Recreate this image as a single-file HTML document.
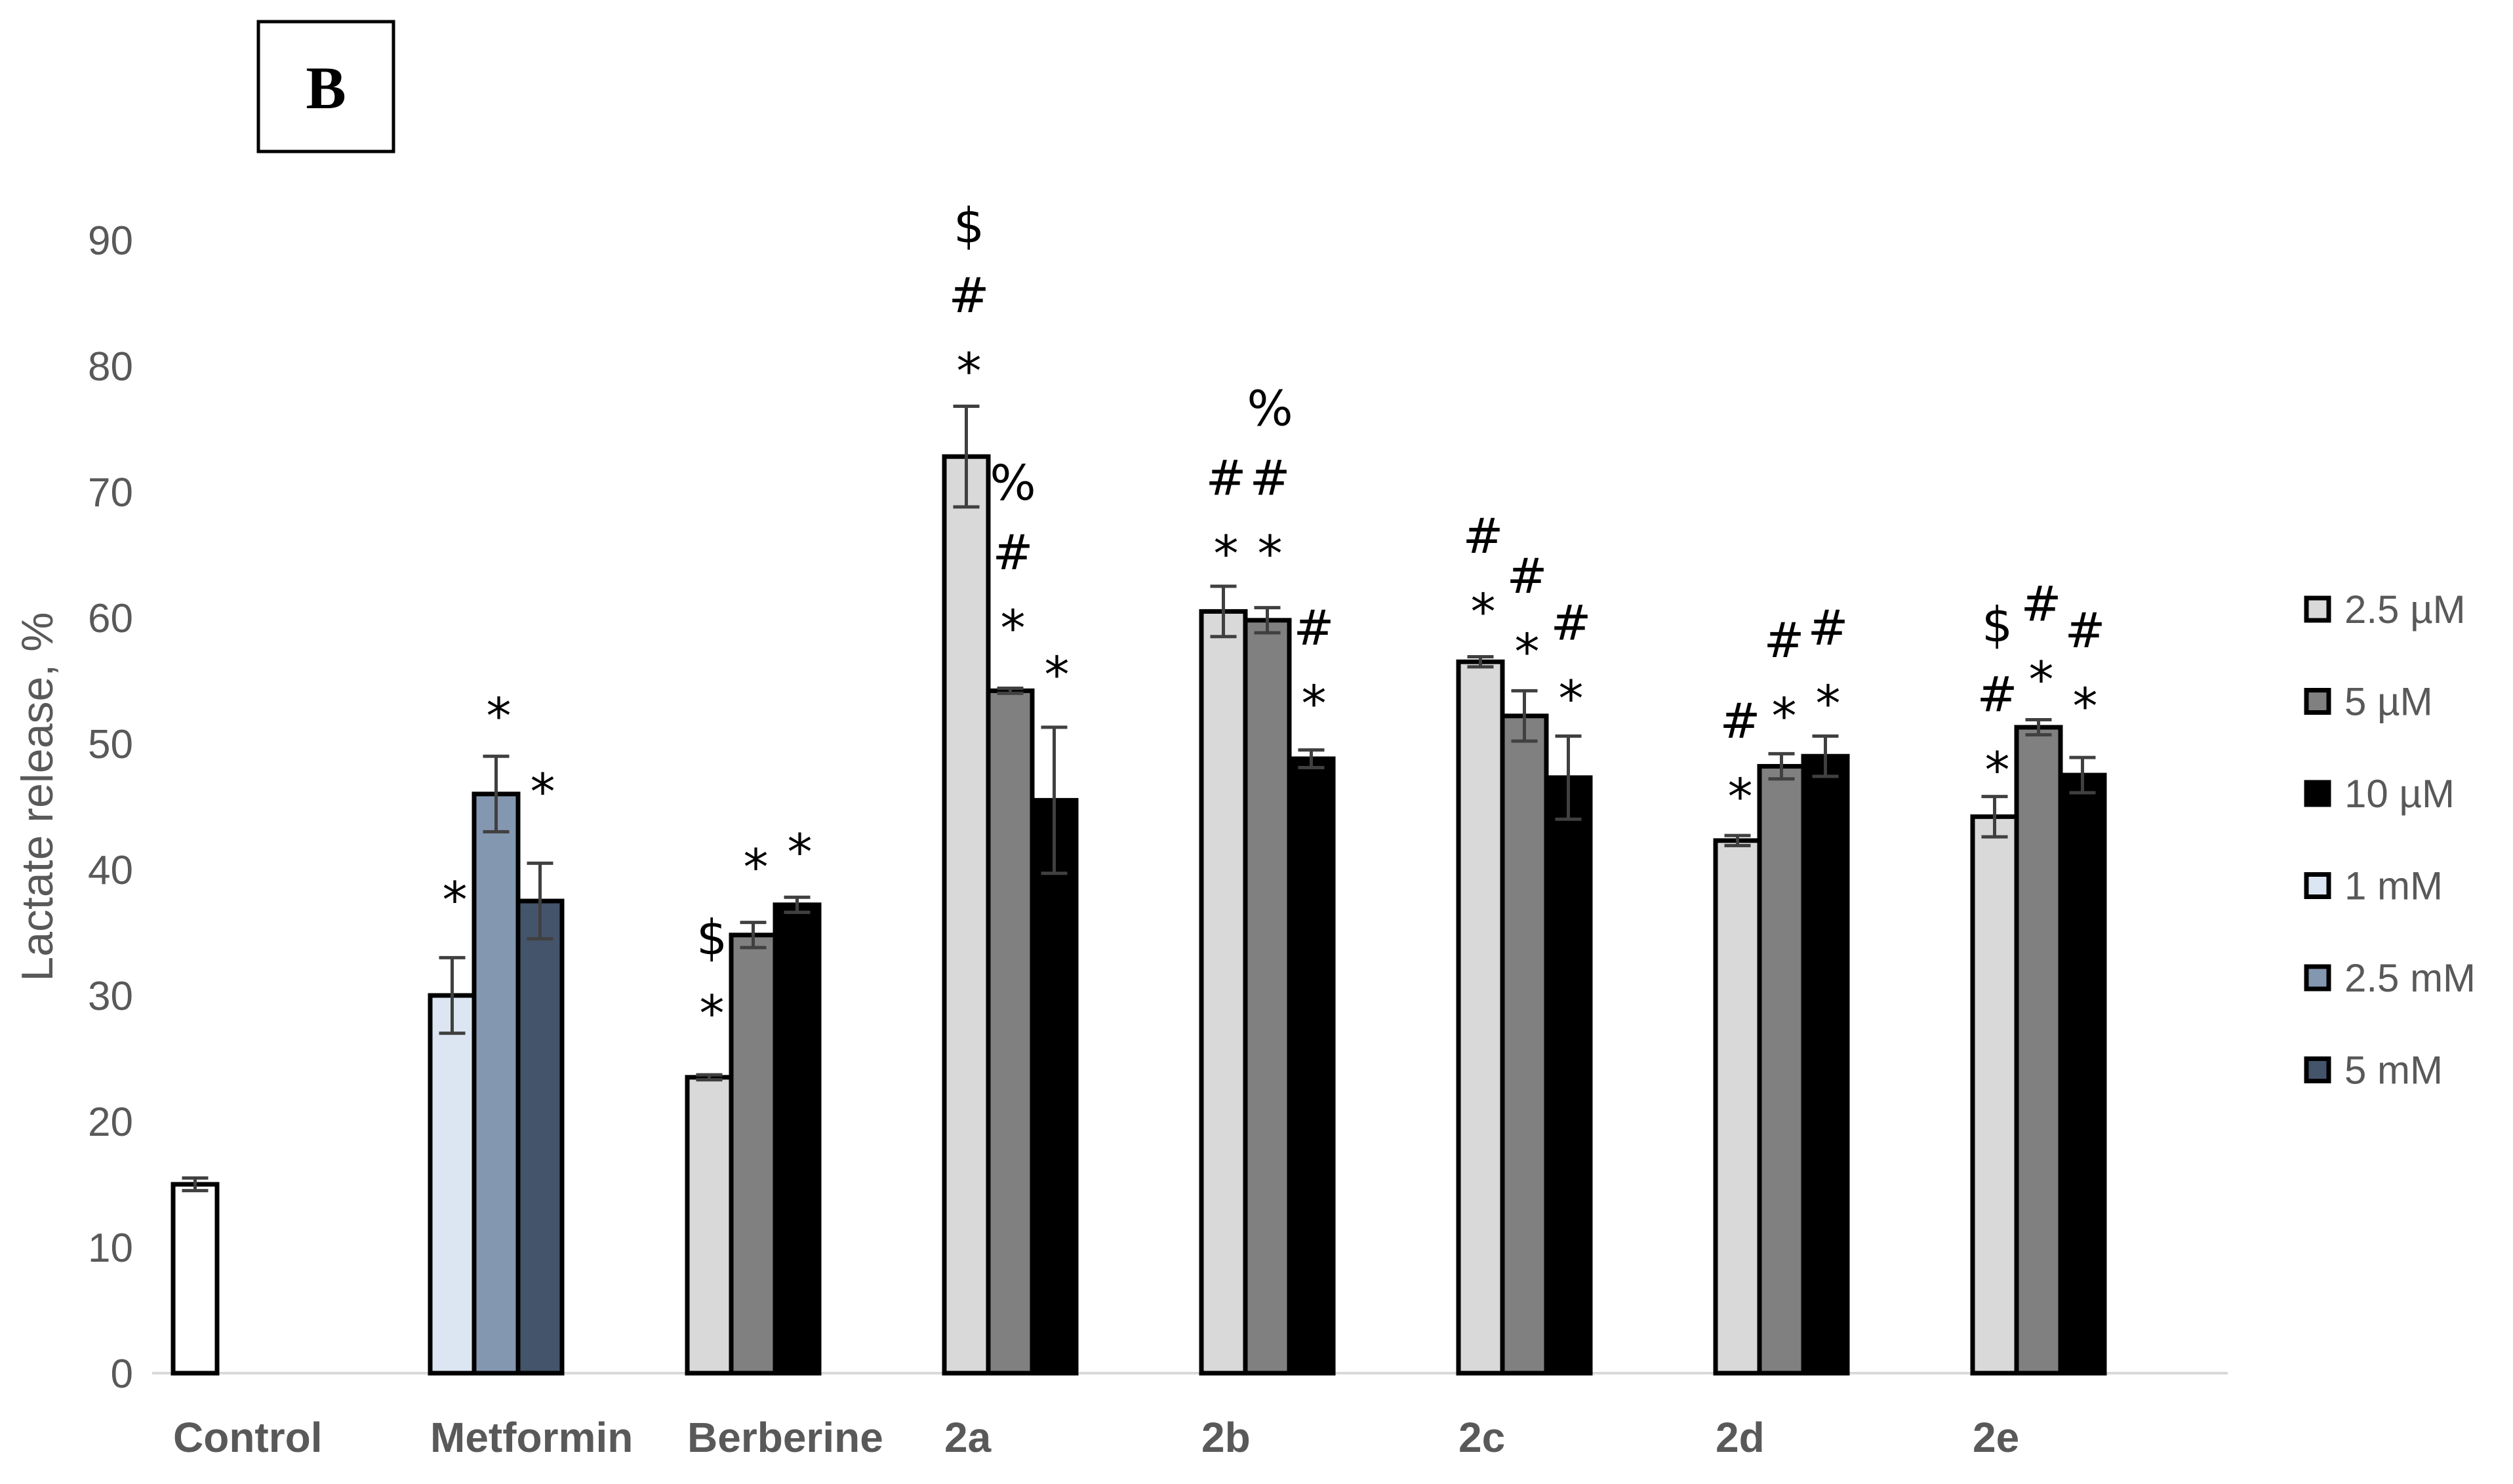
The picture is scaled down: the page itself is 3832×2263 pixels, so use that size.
<!DOCTYPE html>
<html><head><meta charset="utf-8"><style>
body{margin:0;background:#fff;}
svg{display:block;}
</style></head><body>
<svg id="chart" width="3832" height="2263" viewBox="0 0 3832 2263" xmlns="http://www.w3.org/2000/svg">
<rect x="0" y="0" width="3832" height="2263" fill="#fff"/>
<g>
<rect x="394" y="33" width="206" height="198" fill="#fff" stroke="#000" stroke-width="5"/>
<text x="497" y="165" text-anchor="middle" font-family="Liberation Serif, serif" font-weight="bold" font-size="92" fill="#000">B</text>
</g>
<text transform="translate(80,1215) rotate(-90)" text-anchor="middle" font-family="Liberation Sans, sans-serif" font-size="68" fill="#595959">Lactate release, %</text>
<g id="yticks"></g>
<g id="bars"></g>
<g id="cats"></g>
<g id="legend"></g>
</svg>
<script>
const categories = ["Control","Metformin","Berberine","2a","2b","2c","2d","2e"];
const values = [[15],[30,46,37.5],[23.5,34.8,37.2],[72.8,54.2,45.5],[60.5,59.8,48.8],[56.5,52.2,47.3],[42.3,48.2,49],[44.2,51.3,47.5]];
const errors = [[0.5],[3,3,3],[0.2,1,0.6],[4,0.2,5.8],[2,1,0.7],[0.4,2,3.3],[0.4,1,1.6],[1.6,0.6,1.4]];
const seriesIdx = [[6],[3,4,5],[0,1,2],[0,1,2],[0,1,2],[0,1,2],[0,1,2],[0,1,2]];
const annotations = [[[]],[["*"],["*"],["*"]],[["*","$"],["*"],["*"]],[["*","#","$"],["*","#","%"],["*"]],[["*","#"],["*","#","%"],["*","#"]],[["*","#"],["*","#"],["*","#"]],[["*","#"],["*","#"],["*","#"]],[["*","#","$"],["*","#"],["*","#"]]];
const annotBase = [[0],[38.1,52.7,46.7],[29.1,40.7,41.9],[80.1,59.7,56.0],[65.6,65.6,53.7],[61.0,57.8,54.1],[46.3,52.7,53.7],[48.4,55.6,53.5]];
const yTicks = [0,10,20,30,40,50,60,70,80,90];
const legendLabels = ["2.5 µM","5 µM","10 µM","1 mM","2.5 mM","5 mM"];
const colors = ["#d9d9d9","#808080","#000000","#dce6f2","#8497b0","#44546a","#ffffff"];

const NS="http://www.w3.org/2000/svg";
const y0=2094, pxPerUnit=19.2;
const yS=v=>y0-v*pxPerUnit;
const gx=i=>264+i*392;
const bw=67;
function mk(tag,attrs,parent){const e=document.createElementNS(NS,tag);for(const k in attrs)e.setAttribute(k,attrs[k]);parent.appendChild(e);return e;}

const yt=document.getElementById('yticks');
yTicks.forEach(t=>{
  const e=mk('text',{x:203,y:yS(t)+22,'text-anchor':'end','font-family':'Liberation Sans, sans-serif','font-size':62,fill:'#595959'},yt);
  
  
  e.textContent=t;
});
const ax=mk('line',{x1:232,y1:y0,x2:3397,y2:y0,stroke:'#d9d9d9','stroke-width':4},yt);



const bg=document.getElementById('bars');
const cg=document.getElementById('cats');
categories.forEach((c,i)=>{
  const lbl=mk('text',{x:gx(i),y:2214,'font-family':'Liberation Sans, sans-serif','font-weight':'bold','font-size':64,fill:'#595959'},cg);
  
  
  lbl.textContent=c;
  values[i].forEach((v,j)=>{
    const x=gx(i)+j*bw;
    const r=mk('rect',{x:x,y:yS(v),width:bw,height:y0-yS(v),fill:colors[seriesIdx[i][j]],stroke:'#000','stroke-width':7},bg);
    
    
    const cx=x+bw/2, e=errors[i][j];
    const g=mk('g',{stroke:'#404040','stroke-width':5},bg);
    
    
    mk('line',{x1:cx,y1:yS(v+e),x2:cx,y2:yS(v-e)},g);
    mk('line',{x1:cx-20,y1:yS(v+e),x2:cx+20,y2:yS(v+e)},g);
    mk('line',{x1:cx-20,y1:yS(v-e),x2:cx+20,y2:yS(v-e)},g);
    (annotations[i][j]||[]).forEach((s,k)=>{
      const cy=yS(annotBase[i][j])-k*106;
      const t=mk('text',{x:cx+4,y:cy+(s==='*'?36:26),'text-anchor':'middle','font-family':'DejaVu Sans, Liberation Sans, sans-serif','font-size':s==='*'?76:74,fill:'#000'},bg);
      
      
      t.textContent=s;
    });
  });
});

const lg=document.getElementById('legend');
legendLabels.forEach((l,i)=>{
  const cy=929+i*140.5;
  const r=mk('rect',{x:3517,y:cy-17,width:34,height:34,fill:colors[i],stroke:'#000','stroke-width':7},lg);
  
  
  const t=mk('text',{x:3575,y:cy+21,'font-family':'Liberation Sans, sans-serif','font-size':60,fill:'#595959'},lg);
  
  
  t.textContent=l;
});
</script>
</body></html>
